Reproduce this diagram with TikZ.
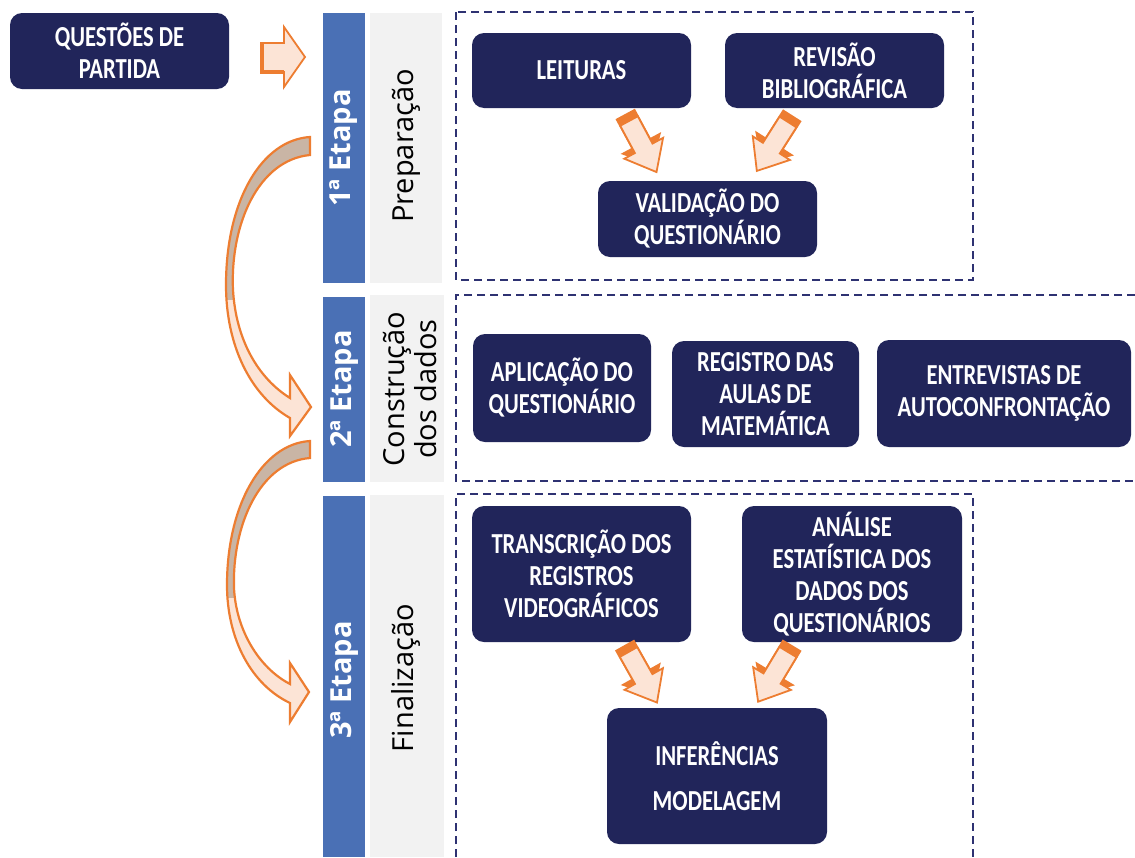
\documentclass[tikz,border=0pt]{standalone}
\usepackage{fontspec}
\newfontfamily\boxfont[FakeStretch=0.78]{Carlito}
\newfontfamily\labfont{Open Sans}
\definecolor{navy}{HTML}{21255A}
\definecolor{stageblue}{HTML}{4A70B5}
\definecolor{stagegrey}{HTML}{F2F2F2}
\definecolor{arrorange}{HTML}{ED7D31}
\definecolor{peach}{HTML}{FCE4D6}
\definecolor{tanfill}{HTML}{C9B5A5}
\definecolor{dashnavy}{HTML}{2E3272}
\tikzset{
  box/.style={fill=navy, rounded corners=12pt, text=white, align=center, inner sep=0pt,
    font=\boxfont\bfseries\fontsize{29}{32}\selectfont},
  stagelab/.style={rotate=90, text=white, font=\labfont\bfseries\fontsize{29}{32}\selectfont},
  greylab/.style={rotate=90, text=black, align=center, font=\labfont\fontsize{29}{32}\selectfont},
  phase/.style={draw=dashnavy, dash pattern=on 8pt off 5pt, line width=1.4pt},
  blockarr/.style={draw=arrorange, line width=1.8pt, fill=peach, line join=miter},
  curvearr/.style={draw=arrorange, line width=2.2pt, line join=miter},
}
\newcommand{\smallarrow}[3]{%
  \begin{scope}[shift={(#1,#2)}, rotate=#3]
    \fill[arrorange] (-8,-11) -- (25,-11) -- (25,-23) -- (50,0) -- (25,23) -- (25,11) -- (-8,11) -- cycle;
    \draw[blockarr] (0,-10) -- (31,-10) -- (31,-22) -- (58,0) -- (31,22) -- (31,10) -- (0,10) -- cycle;
  \end{scope}}
\newcommand{\curveApath}{(310,137) .. controls (262,140) and (226,200) .. (226,285) .. controls (226,345) and (250,395) .. (290,418) -- (290,436) -- (311,407) -- (290,375) -- (290,398) .. controls (258,378) and (236,340) .. (233,290) .. controls (230,225) and (258,160) .. (310,155) -- cycle}
\newcommand{\curveBpath}{(310,441) .. controls (262,444) and (227,505) .. (227,585) .. controls (227,640) and (252,685) .. (290,703) -- (290,722) -- (309,692) -- (290,663) -- (290,684) .. controls (259,668) and (236,630) .. (234,588) .. controls (232,525) and (260,462) .. (310,458) -- cycle}
\begin{document}
\begin{tikzpicture}[x=1pt,y=-1pt]
\useasboundingbox (0,0) rectangle (1135,857);
\fill[white] (0,0) rectangle (1135,857);

% stage bars
\fill[stageblue] (323,13) rectangle (365,283);
\fill[stageblue] (323,297) rectangle (365,482);
\fill[stageblue] (323,496) rectangle (365,857);
\fill[stagegrey] (370,13) rectangle (442,283);
\fill[stagegrey] (370,295) rectangle (444,482);
\fill[stagegrey] (370,495) rectangle (444,857);
\node[stagelab] (s1) at (344,148) {1ª Etapa};
\node[stagelab] (s2) at (344,389) {2ª Etapa};
\node[stagelab] (s3) at (344,680) {3ª Etapa};
\node[greylab] (g1) at (406,146) {Preparação};
\node[greylab] (g2) at (410,389) {Construção\\dos dados};
\node[greylab] (g3) at (406,678) {Finalização};

% dashed phase frames
\draw[phase] (456,12) rectangle (973,280);
\draw[phase] (1135,295) -- (456,295) -- (456,481) -- (1135,481);
\draw[phase] (456,857) -- (456,494) -- (973,494) -- (973,857);

% boxes
\node[box, minimum width=219pt, minimum height=76pt] (q) at (119.5,51) {QUESTÕES DE\\PARTIDA};
\node[box, minimum width=219pt, minimum height=75pt] (leit) at (581.5,70.5) {LEITURAS};
\node[box, minimum width=219pt, minimum height=75pt] (rev) at (834.5,70.5) {REVISÃO\\BIBLIOGRÁFICA};
\node[box, minimum width=219pt, minimum height=76pt] (valid) at (707.5,219) {VALIDAÇÃO DO\\QUESTIONÁRIO};
\node[box, minimum width=178pt, minimum height=108pt] (aplic) at (562,388) {APLICAÇÃO DO\\QUESTIONÁRIO};
\node[box, minimum width=187pt, minimum height=106pt] (regist) at (765.5,394) {REGISTRO DAS\\AULAS DE\\MATEMÁTICA};
\node[box, minimum width=254pt, minimum height=107pt] (entrev) at (1004,393.5) {ENTREVISTAS DE\\AUTOCONFRONTAÇÃO};
\node[box, minimum width=219pt, minimum height=136pt] (transc) at (581.5,574) {TRANSCRIÇÃO DOS\\REGISTROS\\VIDEOGRÁFICOS};
\node[box, minimum width=220pt, minimum height=136pt] (anal) at (852,574) {ANÁLISE\\ESTATÍSTICA DOS\\DADOS DOS\\QUESTIONÁRIOS};
\node[box, minimum width=220pt, minimum height=136pt, font=\boxfont\bfseries\fontsize{29}{45}\selectfont] (infer) at (717,776) {INFERÊNCIAS\\MODELAGEM};

% straight block arrow
\draw[blockarr] (262,43) -- (284,43) -- (284,27) -- (305,57) -- (284,87) -- (284,72) -- (262,72) -- cycle;
\draw[arrorange, line width=4pt] (262,42) -- (262,72) -- (284,72);

% small diagonal block arrows
\smallarrow{629}{121}{-61.7}
\smallarrow{788}{122}{-122.5}
\smallarrow{628.5}{652}{-60.6}
\smallarrow{788}{652}{-121}

% curved arrows
\begin{scope}
  \clip \curveApath;
  \fill[peach] (200,100) rectangle (330,450);
  \fill[tanfill] (200,100) rectangle (330,300);
\end{scope}
\draw[curvearr] \curveApath;
\begin{scope}
  \clip \curveBpath;
  \fill[peach] (200,420) rectangle (330,740);
  \fill[tanfill] (200,420) rectangle (330,598);
\end{scope}
\draw[curvearr] \curveBpath;
\end{tikzpicture}
\end{document}
